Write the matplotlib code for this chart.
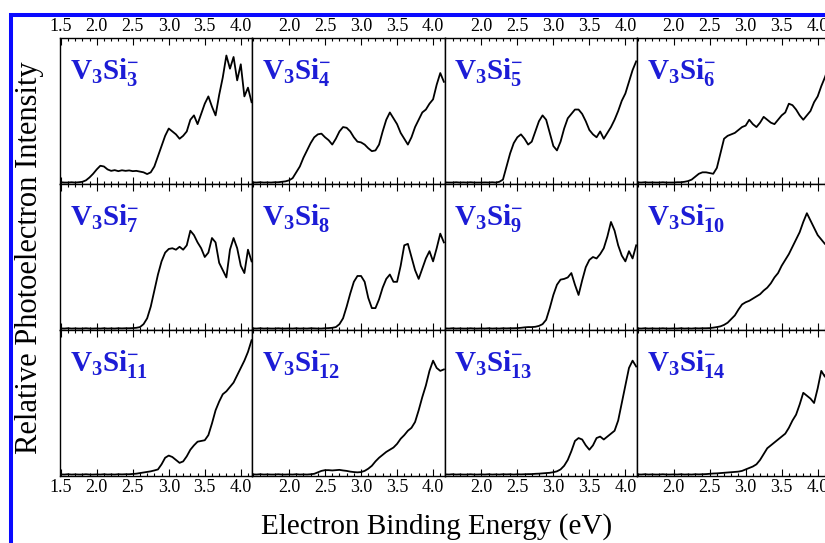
import numpy as np
import matplotlib
matplotlib.use('Agg')
import matplotlib.pyplot as plt
from matplotlib.patches import Rectangle
from matplotlib.ticker import MultipleLocator, FixedLocator

plt.rcParams['font.family'] = ['Liberation Serif', 'DejaVu Serif']
plt.rcParams['mathtext.fontset'] = 'custom'
plt.rcParams['mathtext.rm'] = 'Liberation Serif'
plt.rcParams['mathtext.bf'] = 'Liberation Serif:bold'
plt.rcParams['mathtext.it'] = 'Liberation Serif:italic'

# electron binding energy grid (eV), 1.45 ... 4.15 in 0.05 steps
energy = np.round(np.arange(1.45, 4.151, 0.05), 2)

si_counts = [3, 4, 5, 6, 7, 8, 9, 10, 11, 12, 13, 14]

si3 = [0.01, 0.012, 0.01, 0.01, 0.012, 0.01, 0.012, 0.015, 0.025, 0.045,
       0.07, 0.10, 0.125, 0.12, 0.10, 0.09, 0.095, 0.088, 0.094, 0.09,
       0.093, 0.088, 0.09, 0.085, 0.08, 0.068, 0.08, 0.12, 0.19, 0.26,
       0.33, 0.38, 0.36, 0.34, 0.31, 0.33, 0.36, 0.44, 0.47, 0.41,
       0.48, 0.55, 0.60, 0.53, 0.47, 0.61, 0.73, 0.88, 0.79, 0.87,
       0.71, 0.82, 0.60, 0.66, 0.56]
si4 = [0.01, 0.011, 0.01, 0.012, 0.01, 0.011, 0.01, 0.012, 0.012, 0.015,
       0.018, 0.025, 0.04, 0.08, 0.12, 0.18, 0.23, 0.28, 0.32, 0.34,
       0.345, 0.32, 0.30, 0.27, 0.31, 0.36, 0.39, 0.385, 0.36, 0.32,
       0.29, 0.285, 0.27, 0.245, 0.225, 0.23, 0.27, 0.36, 0.44, 0.49,
       0.45, 0.41, 0.35, 0.31, 0.27, 0.32, 0.39, 0.44, 0.49, 0.51,
       0.55, 0.58, 0.68, 0.76, 0.70]
si5 = [0.01, 0.011, 0.01, 0.01, 0.012, 0.01, 0.011, 0.01, 0.012, 0.01,
       0.01, 0.01, 0.011, 0.01, 0.012, 0.01, 0.015, 0.03, 0.12, 0.21,
       0.28, 0.32, 0.34, 0.31, 0.27, 0.29, 0.36, 0.43, 0.47, 0.44,
       0.35, 0.26, 0.23, 0.29, 0.38, 0.45, 0.48, 0.51, 0.51, 0.48,
       0.43, 0.37, 0.34, 0.32, 0.36, 0.31, 0.35, 0.39, 0.44, 0.50,
       0.57, 0.62, 0.70, 0.78, 0.84]
si6 = [0.01, 0.011, 0.01, 0.012, 0.01, 0.011, 0.01, 0.01, 0.012, 0.01,
       0.01, 0.01, 0.012, 0.012, 0.015, 0.02, 0.03, 0.05, 0.07, 0.08,
       0.08, 0.075, 0.07, 0.11, 0.21, 0.31, 0.33, 0.34, 0.35, 0.37,
       0.39, 0.40, 0.44, 0.41, 0.39, 0.42, 0.46, 0.44, 0.42, 0.41,
       0.44, 0.47, 0.49, 0.55, 0.54, 0.51, 0.47, 0.44, 0.47, 0.50,
       0.56, 0.60, 0.67, 0.73, 0.80]
si7 = [0.01, 0.011, 0.01, 0.012, 0.01, 0.011, 0.01, 0.01, 0.012, 0.01,
       0.01, 0.011, 0.01, 0.012, 0.01, 0.011, 0.01, 0.012, 0.011, 0.012,
       0.012, 0.013, 0.015, 0.02, 0.04, 0.08, 0.16, 0.27, 0.38, 0.47,
       0.53, 0.555, 0.56, 0.55, 0.57, 0.55, 0.58, 0.68, 0.65, 0.60,
       0.56, 0.50, 0.53, 0.63, 0.60, 0.46, 0.41, 0.36, 0.55, 0.63,
       0.56, 0.44, 0.39, 0.55, 0.47]
si8 = [0.01, 0.011, 0.01, 0.012, 0.01, 0.011, 0.01, 0.01, 0.012, 0.01,
       0.01, 0.011, 0.01, 0.012, 0.01, 0.011, 0.01, 0.012, 0.011, 0.01,
       0.01, 0.012, 0.013, 0.015, 0.02, 0.04, 0.08, 0.16, 0.25, 0.33,
       0.37, 0.37, 0.33, 0.22, 0.15, 0.15, 0.21, 0.29, 0.35, 0.38,
       0.33, 0.33, 0.44, 0.58, 0.59, 0.50, 0.41, 0.35, 0.42, 0.49,
       0.54, 0.47, 0.56, 0.66, 0.60]
si9 = [0.01, 0.011, 0.01, 0.012, 0.01, 0.011, 0.01, 0.01, 0.012, 0.01,
       0.01, 0.011, 0.01, 0.012, 0.01, 0.011, 0.01, 0.012, 0.011, 0.012,
       0.012, 0.013, 0.015, 0.018, 0.02, 0.02, 0.022, 0.028, 0.04, 0.07,
       0.15, 0.24, 0.31, 0.345, 0.35, 0.36, 0.39, 0.31, 0.24, 0.34,
       0.43, 0.48, 0.50, 0.49, 0.52, 0.56, 0.64, 0.74, 0.68, 0.58,
       0.51, 0.47, 0.54, 0.49, 0.58]
si10 = [0.01, 0.011, 0.01, 0.012, 0.01, 0.011, 0.01, 0.01, 0.012, 0.01,
        0.01, 0.011, 0.01, 0.012, 0.01, 0.011, 0.01, 0.012, 0.011, 0.012,
        0.012, 0.013, 0.016, 0.02, 0.025, 0.035, 0.05, 0.075, 0.10, 0.14,
        0.175, 0.19, 0.20, 0.215, 0.23, 0.245, 0.27, 0.29, 0.32, 0.36,
        0.39, 0.44, 0.48, 0.52, 0.57, 0.62, 0.67, 0.74, 0.80, 0.75,
        0.70, 0.65, 0.62, 0.59, 0.57]
si11 = [0.01, 0.011, 0.01, 0.012, 0.01, 0.011, 0.01, 0.01, 0.012, 0.01,
        0.01, 0.011, 0.01, 0.012, 0.01, 0.011, 0.01, 0.012, 0.011, 0.012,
        0.012, 0.014, 0.016, 0.02, 0.024, 0.028, 0.032, 0.038, 0.045, 0.08,
        0.125, 0.14, 0.13, 0.11, 0.09, 0.10, 0.135, 0.18, 0.21, 0.235,
        0.24, 0.245, 0.28, 0.36, 0.45, 0.51, 0.56, 0.58, 0.61, 0.64,
        0.69, 0.74, 0.79, 0.85, 0.93]
si12 = [0.01, 0.011, 0.01, 0.012, 0.01, 0.011, 0.01, 0.01, 0.012, 0.01,
        0.01, 0.011, 0.01, 0.012, 0.01, 0.011, 0.01, 0.012, 0.015, 0.025,
        0.035, 0.04, 0.04, 0.038, 0.04, 0.042, 0.038, 0.035, 0.03, 0.027,
        0.025, 0.027, 0.035, 0.05, 0.07, 0.10, 0.125, 0.145, 0.165, 0.18,
        0.195, 0.22, 0.255, 0.28, 0.31, 0.33, 0.37, 0.45, 0.54, 0.62,
        0.72, 0.79, 0.74, 0.72, 0.73]
si13 = [0.01, 0.011, 0.01, 0.012, 0.01, 0.011, 0.01, 0.01, 0.012, 0.01,
        0.01, 0.011, 0.01, 0.012, 0.01, 0.011, 0.01, 0.012, 0.011, 0.012,
        0.01, 0.012, 0.011, 0.012, 0.013, 0.013, 0.015, 0.016, 0.018, 0.02,
        0.022, 0.026, 0.032, 0.045, 0.07, 0.11, 0.17, 0.24, 0.26, 0.25,
        0.21, 0.18, 0.21, 0.26, 0.27, 0.25, 0.27, 0.29, 0.31, 0.38,
        0.50, 0.62, 0.74, 0.79, 0.75]
si14 = [0.01, 0.011, 0.01, 0.012, 0.01, 0.011, 0.01, 0.01, 0.012, 0.01,
        0.01, 0.011, 0.01, 0.012, 0.01, 0.011, 0.01, 0.012, 0.011, 0.012,
        0.013, 0.015, 0.017, 0.018, 0.02, 0.022, 0.024, 0.026, 0.028, 0.03,
        0.035, 0.045, 0.055, 0.065, 0.08, 0.11, 0.15, 0.19, 0.21, 0.23,
        0.25, 0.27, 0.29, 0.33, 0.38, 0.42, 0.49, 0.57, 0.55, 0.53,
        0.50, 0.60, 0.72, 0.68, 0.75]

spectra = [si3, si4, si5, si6, si7, si8, si9, si10, si11, si12, si13, si14]

xlabel_text = 'Electron Binding Energy (eV)'
ylabel_text = 'Relative Photoelectron Intensity'

W, H = 825, 543
fig = plt.figure(figsize=(W / 100, H / 100), dpi=100)

col_left = [60, 252.3, 444.6, 636.9]
col_w = 192.3
row_top = [38, 184, 330]
row_h = 146

label_color = '#1c1cd6'

for i, (n, vals) in enumerate(zip(si_counts, spectra)):
    r, c = divmod(i, 4)
    ax = fig.add_axes([col_left[c] / W, 1 - (row_top[r] + row_h) / H,
                       col_w / W, row_h / H])
    ax.plot(energy, vals, color='black', lw=1.3)
    ax.set_xlim(1.49, 4.16)
    ax.set_ylim(0, 1)
    ax.set_yticks([])
    if c == 0:
        ax.xaxis.set_major_locator(MultipleLocator(0.5))
    else:
        ax.xaxis.set_major_locator(FixedLocator([2.0, 2.5, 3.0, 3.5, 4.0]))
    ax.xaxis.set_minor_locator(MultipleLocator(0.1))
    ax.xaxis.set_major_formatter(plt.FormatStrFormatter('%.1f'))
    ax.tick_params(axis='x', which='both', direction='in', top=True, bottom=True,
                   labeltop=(r == 0), labelbottom=(r == 2), labelsize=13,
                   pad=2, width=0.8)
    ax.tick_params(axis='x', which='major', length=5)
    ax.tick_params(axis='x', which='minor', length=2.5)
    for s in ax.spines.values():
        s.set_linewidth(1.0)
    ax.text(0.05, 0.88, r'$\mathbf{V_3Si_{%d}^{-}}$' % n, transform=ax.transAxes,
            color=label_color, fontsize=21, ha='left', va='top')

fig.text(30 / W, 1 - 258 / H, ylabel_text, rotation=90, ha='center', va='center',
         fontsize=22)
fig.text(437 / W, 1 - 527 / H, xlabel_text, ha='center', va='center', fontsize=21)

frame = Rectangle((11 / W, -0.1), 1.2, 1 - 14.7 / H + 0.1, transform=fig.transFigure,
                  fill=False, edgecolor='#0a0aff', lw=2.9)
fig.add_artist(frame)

fig.savefig('out.png', dpi=100)
